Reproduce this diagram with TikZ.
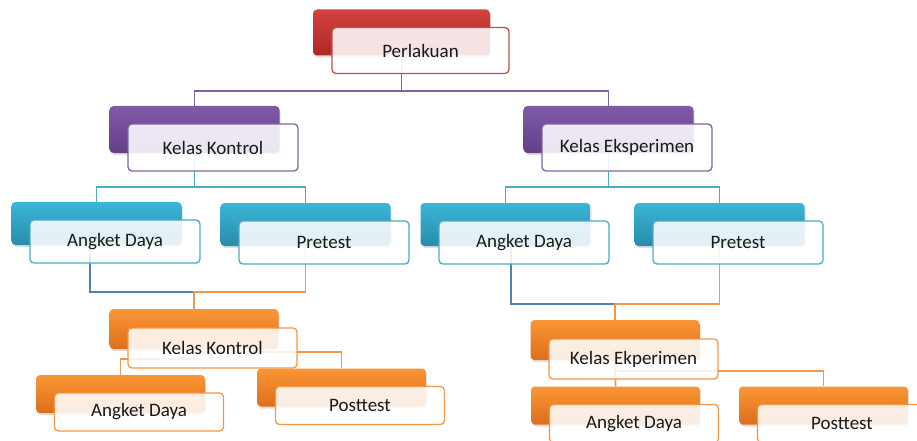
\documentclass[tikz,border=0pt]{standalone}
\usepackage{fontspec}
\setmainfont{Carlito}
\usepackage{tikz}
\usetikzlibrary{calc,backgrounds,shadows}

\definecolor{redtop}{RGB}{210,66,64}
\definecolor{redbot}{RGB}{176,40,38}
\definecolor{redline}{RGB}{192,80,77}
\definecolor{purtop}{RGB}{128,90,166}
\definecolor{purbot}{RGB}{100,64,136}
\definecolor{purline}{RGB}{128,100,162}
\definecolor{teatop}{RGB}{58,182,216}
\definecolor{teabot}{RGB}{40,140,170}
\definecolor{tealine}{RGB}{75,172,198}
\definecolor{orgtop}{RGB}{250,150,52}
\definecolor{orgbot}{RGB}{222,110,28}
\definecolor{orgline}{RGB}{247,150,70}
\definecolor{blueline}{RGB}{79,129,189}

\begin{document}
\begin{tikzpicture}[x=1pt,y=-1pt,
  back box/.style={rounded corners=4pt,inner sep=0pt,
    drop shadow={shadow xshift=1pt,shadow yshift=-2pt,opacity=0.25}},
  front box/.style={draw,rounded corners=4pt,inner sep=0pt,line width=1.3pt,
    fill=white,fill opacity=0.87,text opacity=1,text=black!90,
    font=\fontsize{19}{22}\selectfont},
  back/.style={back box,top color=#1top,bottom color=#1bot},
  front/.style={front box,draw=#1line},
  lv0/.style={minimum width=177pt,minimum height=46pt},
  lv1/.style={minimum width=170pt,minimum height=47pt},
  lv2/.style={minimum width=170pt,minimum height=43pt},
  lv3/.style={minimum width=169pt,minimum height=40pt},
  lv4/.style={minimum width=169pt,minimum height=38pt},
  link/.style={line width=1.7pt,draw=#1line}]

\useasboundingbox (0,0) rectangle (917,441);
\clip (0,0) rectangle (917,441);

% back boxes
\node[back=red,lv0](perlakuanB) at (401.5,32.5) {};
\node[back=pur,lv1](kontrolB) at (194.5,129.5) {};
\node[back=pur,lv1](eksperimenB) at (608.5,129.5) {};
\node[back=tea,lv2](angketKB) at (96.5,223.5) {};
\node[back=tea,lv2](pretestKB) at (305.5,224.5) {};
\node[back=tea,lv2](angketEB) at (505.5,224.5) {};
\node[back=tea,lv2](pretestEB) at (719.5,224.5) {};
\node[back=org,lv3](hasilKB) at (194,329) {};
\node[back=org,lv3](hasilEB) at (615,340) {};
\node[back=org,lv4](angketKKB) at (120.5,394) {};
\node[back=org,lv4](posttestKB) at (341.5,387.5) {};
\node[back=org,lv4](angketEEB) at (615.5,405.5) {};
\node[back=org,lv4](posttestEB) at (823.5,405.5) {};

% front boxes
\node[front=red,lv0](perlakuan) at ($(perlakuanB)+(19,18)$) {Perlakuan};
\node[front=pur,lv1](kontrol) at ($(kontrolB)+(18.5,18)$) {Kelas Kontrol};
\node[front=pur,lv1](eksperimen) at ($(eksperimenB)+(18.5,18)$) {Kelas Eksperimen};
\node[front=tea,lv2](angketK) at ($(angketKB)+(18.5,18)$) {Angket Daya};
\node[front=tea,lv2](pretestK) at ($(pretestKB)+(18.5,18)$) {Pretest};
\node[front=tea,lv2](angketE) at ($(angketEB)+(18.5,18)$) {Angket Daya};
\node[front=tea,lv2](pretestE) at ($(pretestEB)+(18.5,18)$) {Pretest};
\node[front=org,lv3](hasilK) at ($(hasilKB)+(18.5,19)$) {Kelas Kontrol};
\node[front=org,lv3](hasilE) at ($(hasilEB)+(18.5,19)$) {Kelas Ekperimen};
\node[front=org,lv4](angketKK) at ($(angketKKB)+(18.5,18)$) {Angket Daya};
\node[front=org,lv4](posttestK) at ($(posttestKB)+(18.5,18)$) {Posttest};
\node[front=org,lv4](angketEE) at ($(angketEEB)+(18.5,18)$) {Angket Daya};
\node[front=org,lv4](posttestE) at ($(posttestEB)+(18.5,18)$) {Posttest};

\begin{scope}[on background layer]
\coordinate (j0) at ($(perlakuanB.south)+(0,35)$);
\coordinate (j1K) at ($(kontrolB.south)+(0,34)$);
\coordinate (j1E) at ($(eksperimenB.south)+(0,34)$);
\coordinate (j2K) at ($(hasilKB.north)+(0,-17)$);
\coordinate (j2E) at ($(hasilEB.north)+(0,-16)$);

\draw[link=pur] (perlakuanB.south) -- (j0) -| (kontrolB.north);
\draw[link=pur] (j0) -| (eksperimenB.north);
\draw[link=tea] (kontrolB.south) -- (j1K) -| (angketKB.north);
\draw[link=tea] (j1K) -| (pretestKB.north);
\draw[link=tea] (eksperimenB.south) -- (j1E) -| (angketEB.north);
\draw[link=tea] (j1E) -| (pretestEB.north);

\draw[link=blue,line width=2.1pt] ($(angketKB.south)+(-6.5,0)$) |- (j2K);
\draw[link=org] (pretestKB.south) |- (j2K) -- (hasilKB.north);
\draw[link=blue,line width=2.1pt] ($(angketEB.south)+(5.5,0)$) |- (j2E);
\draw[link=org] (pretestEB.south) |- (j2E) -- (hasilEB.north);

\draw[link=org] (hasilKB.south) -- ++(0,10) -| (angketKKB.north);
\draw[link=org] (hasilKB.south) -- ++(0,3) -| (posttestKB.north);
\draw[link=org] (hasilEB.south) -- (angketEEB.north);
\draw[link=org] (hasilEB.south) -- ++(0,11) -| (posttestEB.north);
\end{scope}

\end{tikzpicture}
\end{document}
